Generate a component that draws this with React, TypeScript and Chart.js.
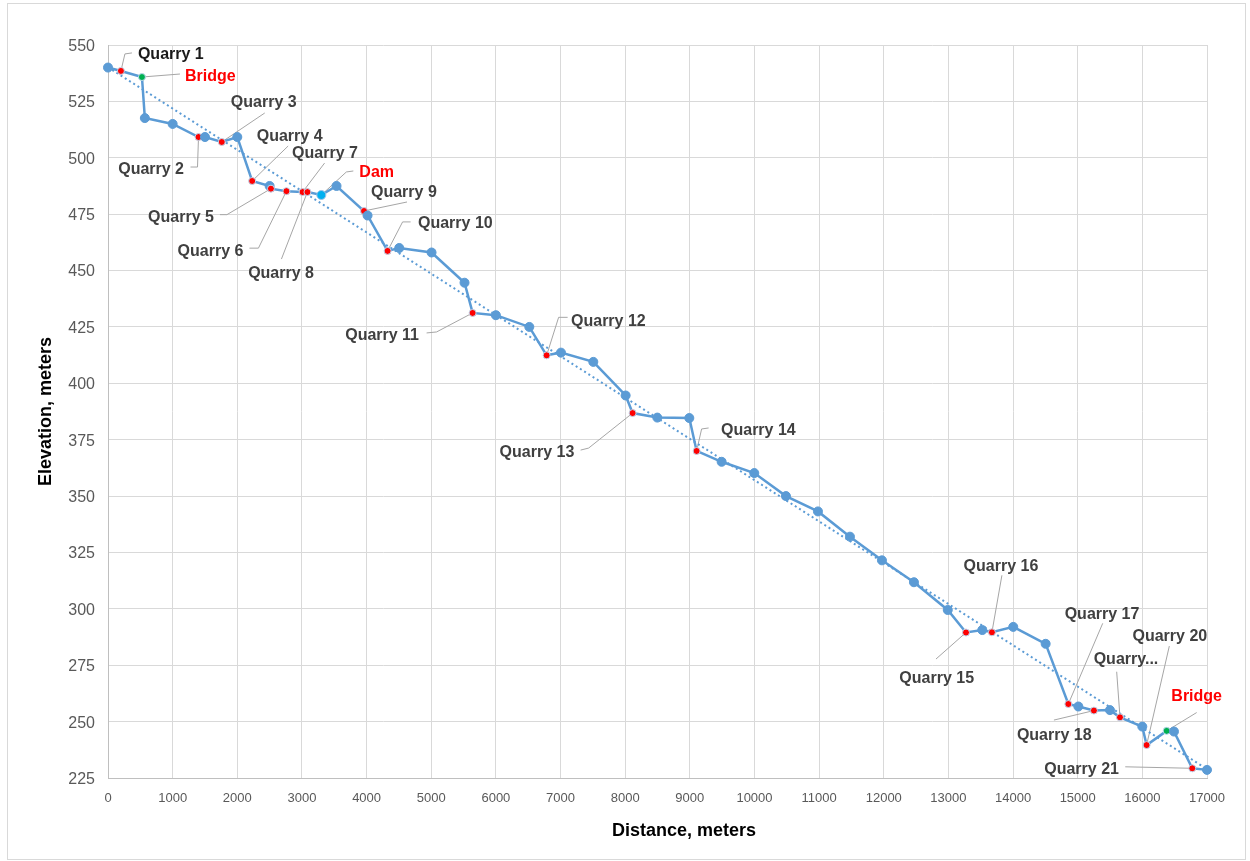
import React, { useEffect, useRef } from "react";
import { Chart, registerables } from "chart.js";

Chart.register(...registerables);

// ---------- data ----------
const distances = [
  0, 200, 525, 570, 1000, 1400, 1500, 1760, 2000, 2230,
  2500, 2520, 2760, 3010, 3085, 3300, 3535, 3960, 4015, 4325,
  4505, 5005, 5515, 5640, 6000, 6517, 6785, 7007, 7507, 8007,
  8115, 8497, 8992, 9105, 9492, 9997, 10487, 10982, 11477, 11972,
  12467, 12990, 13272, 13524, 13673, 14003, 14504, 14855, 15010, 15251,
  15499, 15654, 15999, 16066, 16376, 16489, 16772, 17000,
];

const elevations = [
  540, 538.5, 535.8, 517.6, 515, 509.2, 509.2, 507, 509.2, 489.7,
  487.5, 486.3, 485.2, 484.8, 484.8, 483.5, 487.5, 476.4, 474.4, 458.7,
  460, 458, 444.6, 431.2, 430.2, 425, 412.4, 413.6, 409.5, 394.6,
  386.8, 384.8, 384.6, 370, 365.2, 360.2, 350, 343.2, 332, 321.5,
  311.8, 299.5, 289.5, 290.6, 289.6, 292, 284.5, 257.8, 256.7, 254.9,
  255.1, 251.9, 247.8, 239.6, 245.9, 245.6, 229.3, 228.6,
];

// "" = plain point, q = quarry, bridge, dam
const pointKinds = [
  "", "q", "bridge", "", "", "q", "", "q", "", "q",
  "", "q", "q", "q", "q", "dam", "", "q", "", "q",
  "", "", "", "q", "", "", "q", "", "", "",
  "q", "", "", "q", "", "", "", "", "", "",
  "", "", "q", "", "q", "", "", "q", "", "q",
  "", "q", "", "q", "bridge", "", "q", "",
];

const pointLabels = [
  "", "Quarry 1", "Bridge", "", "", "Quarry 2", "", "Quarry 3", "", "Quarry 4",
  "", "Quarry 5", "Quarry 6", "Quarry 7", "Quarry 8", "Dam", "", "Quarry 9", "", "Quarry 10",
  "", "", "", "Quarry 11", "", "", "Quarry 12", "", "", "",
  "Quarry 13", "", "", "Quarry 14", "", "", "", "", "", "",
  "", "", "Quarry 15", "", "Quarry 16", "", "", "Quarry 17", "", "Quarry 18",
  "", "Quarry...", "", "Quarry 20", "Bridge", "", "Quarry 21", "",
];

const X_MIN = 0;
const X_MAX = 17000;
const X_STEP = 1000;
const Y_MIN = 225;
const Y_MAX = 550;
const Y_STEP = 25;

const X_TITLE = "Distance, meters";
const Y_TITLE = "Elevation, meters";

// ---------- label layout (pixel offsets from the labelled point) ----------
type Layout = { align: CanvasTextAlign; dx: number; dy: number; path: number[][] };
const labelLayout: Layout[] = [
  { align: "left", dx: 17, dy: -18, path: [[4, -17], [11, -18]] }, // Quarry 1
  { align: "left", dx: 43, dy: -2, path: [[38, -3]] }, // Bridge
  { align: "right", dx: -14.5, dy: 31, path: [[-1, 30], [-8, 30]] }, // Quarry 2
  { align: "center", dx: 42, dy: -41, path: [[43, -29]] }, // Quarry 3
  { align: "center", dx: 37.5, dy: -46, path: [[36, -35]] }, // Quarry 4
  { align: "right", dx: -57, dy: 27, path: [[-44, 26], [-51, 26]] }, // Quarry 5
  { align: "right", dx: -43, dy: 58, path: [[-28, 57], [-37, 57]] }, // Quarry 6
  { align: "center", dx: 22.4, dy: -40, path: [[22, -29]] }, // Quarry 7
  { align: "center", dx: -26.4, dy: 80, path: [[-26, 67]] }, // Quarry 8
  { align: "left", dx: 38, dy: -24, path: [[25, -23], [32, -24]] }, // Dam
  { align: "left", dx: 7, dy: -20, path: [[43, -9]] }, // Quarry 9
  { align: "left", dx: 30.4, dy: -29, path: [[15, -29], [23, -29]] }, // Quarry 10
  { align: "right", dx: -53.6, dy: 21, path: [[-36, 19], [-46, 20]] }, // Quarry 11
  { align: "left", dx: 24.4, dy: -36, path: [[12, -38], [21, -38]] }, // Quarry 12
  { align: "right", dx: -58.3, dy: 38, path: [[-44, 35], [-52, 37]] }, // Quarry 13
  { align: "left", dx: 24.4, dy: -22, path: [[5, -22], [12, -23]] }, // Quarry 14
  { align: "center", dx: -29.3, dy: 44.5, path: [[-30, 26.5]] }, // Quarry 15
  { align: "center", dx: 9, dy: -67.3, path: [[10, -57]] }, // Quarry 16
  { align: "center", dx: 33.7, dy: -91, path: [[34.4, -80.7]] }, // Quarry 17
  { align: "center", dx: -39.7, dy: 22.8, path: [[-40, 9.5]] }, // Quarry 18
  { align: "center", dx: 6, dy: -60, path: [[-3.3, -45.6]] }, // Quarry...
  { align: "center", dx: 23.2, dy: -110.7, path: [[22.7, -99]] }, // Quarry 20
  { align: "center", dx: 30, dy: -36.7, path: [[30, -18.3]] }, // Bridge
  { align: "right", dx: -73.3, dy: -0.8, path: [[-67, -1.5]] }, // Quarry 21
];
const TEXT_SHIFT_Y = 2;

// ---------- styles ----------
const LINE_BLUE = "#5B9BD5";
const KIND_FILL: Record<string, string> = { "": LINE_BLUE, q: "#FF0000", bridge: "#00B050", dam: "#00B0F0" };
const KIND_RADIUS: Record<string, number> = { "": 4.5, q: 3.5, bridge: 3.5, dam: 4.5 };
const KIND_BORDER: Record<string, string> = { "": LINE_BLUE, q: "#BDD7EE", bridge: "#BDD7EE", dam: "#9DC3E6" };
const FONT = "'Liberation Sans', Arial, sans-serif";

function regression(xs: number[], ys: number[]) {
  const n = xs.length;
  let sx = 0, sy = 0, sxx = 0, sxy = 0;
  for (let i = 0; i < n; i++) {
    sx += xs[i]; sy += ys[i]; sxx += xs[i] * xs[i]; sxy += xs[i] * ys[i];
  }
  const m = (n * sxy - sx * sy) / (n * sxx - sx * sx);
  const b = (sy - m * sx) / n;
  return { m, b };
}

const framePlugin = {
  id: "frame",
  beforeDraw(chart: any) {
    const ctx = chart.ctx;
    ctx.save();
    ctx.fillStyle = "#ffffff";
    ctx.fillRect(0, 0, chart.width, chart.height);
    ctx.strokeStyle = "#d9d9d9";
    ctx.lineWidth = 1;
    ctx.strokeRect(7.5, 3.5, 1238, 856);
    ctx.restore();
  },
  afterDraw(chart: any) {
    const ctx = chart.ctx;
    const area = chart.chartArea;
    ctx.save();
    ctx.fillStyle = "#000000";
    ctx.font = `bold 18px ${FONT}`;
    ctx.textAlign = "center";
    ctx.textBaseline = "middle";
    ctx.fillText(X_TITLE, 684, 831);
    ctx.translate(46, (area.top + area.bottom) / 2);
    ctx.rotate(-Math.PI / 2);
    ctx.fillText(Y_TITLE, 0, 0);
    ctx.restore();
  },
};

function labelledPoints(chart: any) {
  const xs = chart.scales.x;
  const ys = chart.scales.y;
  const out: { x: number; y: number; text: string; kind: string; layout: Layout }[] = [];
  let k = 0;
  for (let i = 0; i < distances.length; i++) {
    if (!pointLabels[i]) continue;
    out.push({
      x: xs.getPixelForValue(distances[i]),
      y: ys.getPixelForValue(elevations[i]),
      text: pointLabels[i],
      kind: pointKinds[i],
      layout: labelLayout[k++],
    });
  }
  return out;
}

const labelPlugin = {
  id: "pointLabels",
  beforeDatasetsDraw(chart: any) {
    const ctx = chart.ctx;
    ctx.save();
    ctx.strokeStyle = "#A6A6A6";
    ctx.lineWidth = 1;
    for (const p of labelledPoints(chart)) {
      if (!p.layout) continue;
      ctx.beginPath();
      ctx.moveTo(p.x, p.y);
      for (const [dx, dy] of p.layout.path) ctx.lineTo(p.x + dx, p.y + dy);
      ctx.stroke();
    }
    ctx.restore();
  },
  afterDatasetsDraw(chart: any) {
    const ctx = chart.ctx;
    ctx.save();
    ctx.font = `bold 16px ${FONT}`;
    ctx.textBaseline = "middle";
    for (const p of labelledPoints(chart)) {
      if (!p.layout) continue;
      ctx.textAlign = p.layout.align;
      if (p.kind === "bridge" || p.kind === "dam") ctx.fillStyle = "#FF0000";
      else if (p.text === "Quarry 1") ctx.fillStyle = "#1a1a1a";
      else ctx.fillStyle = "#404040";
      ctx.fillText(p.text, p.x + p.layout.dx, p.y + p.layout.dy + TEXT_SHIFT_Y);
    }
    ctx.restore();
  },
};

export default function App() {
  const ref = useRef<HTMLCanvasElement>(null);

  useEffect(() => {
    const canvas = ref.current;
    if (!canvas) return;
    const { m, b } = regression(distances, elevations);
    const mainData = distances.map((x, i) => ({ x, y: elevations[i] }));
    const trendData = [
      { x: distances[0], y: b + m * distances[0] },
      { x: distances[distances.length - 1], y: b + m * distances[distances.length - 1] },
    ];

    const chart = new Chart(canvas, {
      type: "line",
      data: {
        datasets: [
          {
            label: "Elevation",
            data: mainData,
            borderColor: LINE_BLUE,
            borderWidth: 2.5,
            tension: 0,
            pointRadius: pointKinds.map((k) => KIND_RADIUS[k]),
            pointBackgroundColor: pointKinds.map((k) => KIND_FILL[k]),
            pointBorderColor: pointKinds.map((k) => KIND_BORDER[k]),
            pointBorderWidth: 1,
            clip: false as any,
            order: 1,
          },
          {
            label: "Trend",
            data: trendData,
            borderColor: LINE_BLUE,
            borderWidth: 2,
            borderDash: [2, 3],
            pointRadius: 0,
            tension: 0,
            order: 2,
          },
        ],
      },
      options: {
        responsive: false,
        animation: false,
        devicePixelRatio: 1,
        layout: { padding: { left: 0, top: 45, right: 43, bottom: 0 } },
        plugins: {
          legend: { display: false },
          tooltip: { enabled: false },
        },
        scales: {
          x: {
            type: "linear",
            min: X_MIN,
            max: X_MAX,
            afterFit: (s: any) => {
              s.height = 83;
            },
            ticks: {
              stepSize: X_STEP,
              autoSkip: false,
              maxRotation: 0,
              color: "#595959",
              padding: 13,
              font: { family: FONT, size: 13 },
              callback: (v: any) => String(v),
            },
            grid: { color: "#d9d9d9", drawTicks: false, lineWidth: 1 },
            border: { color: "#bfbfbf" },
          },
          y: {
            type: "linear",
            min: Y_MIN,
            max: Y_MAX,
            afterFit: (s: any) => {
              s.width = 108;
            },
            ticks: {
              stepSize: Y_STEP,
              color: "#595959",
              padding: 13,
              labelOffset: 1.5,
              font: { family: FONT, size: 16 },
              callback: (v: any) => String(v),
            },
            grid: { color: "#d9d9d9", drawTicks: false, lineWidth: 1 },
            border: { color: "#bfbfbf" },
          },
        },
      },
      plugins: [framePlugin, labelPlugin],
    } as any);

    return () => chart.destroy();
  }, []);

  return (
    <div style={{ position: "fixed", left: 0, top: 0, width: 1250, height: 861, background: "#fff" }}>
      <canvas ref={ref} width={1250} height={861} style={{ display: "block", width: 1250, height: 861 }} />
    </div>
  );
}
